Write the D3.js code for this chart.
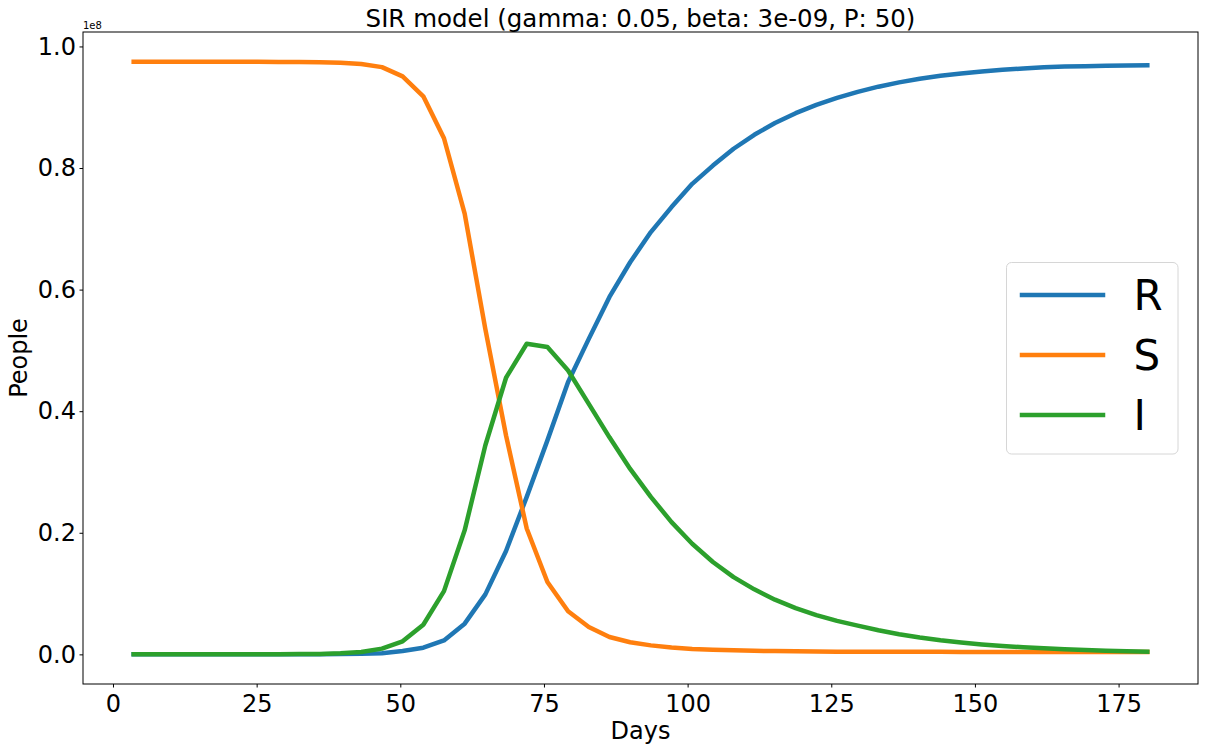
<!DOCTYPE html>
<html>
<head>
<meta charset="utf-8">
<script src="https://cdn.jsdelivr.net/npm/d3@7"></script>
<style>
  body { margin: 0; background: #fff; }
  text { font-family: "DejaVu Sans", sans-serif; }
</style>
</head>
<body>
<div id="chart-area"></div>
<script>
// days of each model step (P: 50 steps over 180 days)
var days = [3.6, 7.2, 10.8, 14.4, 18, 21.6, 25.2, 28.8, 32.4, 36,
	39.6, 43.2, 46.8, 50.4, 54, 57.6, 61.2, 64.8, 68.4, 72,
	75.6, 79.2, 82.8, 86.4, 90, 93.6, 97.2, 100.8, 104.4, 108,
	111.6, 115.2, 118.8, 122.4, 126, 129.6, 133.2, 136.8, 140.4, 144,
	147.6, 151.2, 154.8, 158.4, 162, 165.6, 169.2, 172.8, 176.4, 180];

// people, in units of 1e8
var recovered = [0, 0, 0, 0, 0, 0, 0, 0, 0.0001, 0.0002,
	0.0004, 0.0009, 0.002, 0.0055, 0.011, 0.023, 0.0505, 0.0987, 0.170, 0.259,
	0.352, 0.448, 0.519, 0.588, 0.645, 0.6946, 0.7357, 0.774, 0.804, 0.8317,
	0.8547, 0.874, 0.8902, 0.9038, 0.9153, 0.9253, 0.9338, 0.9409, 0.9468, 0.9517,
	0.9556, 0.9589, 0.9616, 0.9638, 0.9656, 0.9668, 0.9676, 0.9682, 0.9686, 0.9689];

var susceptible = [0.975, 0.975, 0.975, 0.975, 0.9749, 0.9749, 0.9748, 0.9746, 0.9744, 0.9741,
	0.9733, 0.971, 0.966, 0.9507, 0.918, 0.849, 0.725, 0.535, 0.36, 0.207,
	0.119, 0.071, 0.045, 0.0285, 0.020, 0.0148, 0.0112, 0.009, 0.0076, 0.0066,
	0.0059, 0.0054, 0.005, 0.0047, 0.0045, 0.0044, 0.0043, 0.0042, 0.0041, 0.0041,
	0.004, 0.004, 0.0039, 0.0039, 0.0039, 0.0038, 0.0038, 0.0038, 0.0038, 0.0038];

var infected = [0, 0, 0, 0, 0, 0.0001, 0.0001, 0.0002, 0.0004, 0.0008,
	0.0018, 0.004, 0.0094, 0.0214, 0.0488, 0.104, 0.204, 0.344, 0.455, 0.511,
	0.5055, 0.467, 0.412, 0.357, 0.305, 0.259, 0.2176, 0.182, 0.152, 0.127,
	0.107, 0.090, 0.076, 0.0645, 0.055, 0.0472, 0.0397, 0.0332, 0.0277, 0.0232,
	0.0195, 0.0164, 0.0138, 0.0117, 0.0099, 0.0084, 0.0072, 0.0061, 0.0052, 0.0045];

var seriesNames = ["R", "S", "I"];
var seriesColors = ["#1f77b4", "#ff7f0e", "#2ca02c"];
var xTicks = [0, 25, 50, 75, 100, 125, 150, 175];
var yTicks = [0, 0.2, 0.4, 0.6, 0.8, 1.0];

var W = 1205, H = 750;
var margin = {top: 32, right: 7, bottom: 66, left: 83};
var width = W - margin.left - margin.right;
var height = H - margin.top - margin.bottom;

var svg = d3.select("#chart-area")
	.append("svg")
	.attr("width", W)
	.attr("height", H);

var g = svg.append("g")
	.attr("transform", "translate(" + margin.left + ", " + margin.top + ")");

// matplotlib style 5% margins
var xPad = (d3.max(days) - d3.min(days)) * 0.05;
var yMax = d3.max([d3.max(recovered), d3.max(susceptible), d3.max(infected)]);
var yPad = yMax * 0.05;

var x = d3.scaleLinear()
	.domain([d3.min(days) - xPad, d3.max(days) + xPad])
	.range([0, width]);
var y = d3.scaleLinear()
	.domain([0 - yPad, yMax + yPad])
	.range([height, 0]);

var bottomAxis = d3.axisBottom(x).tickValues(xTicks)
	.tickSize(3.5).tickPadding(7).tickSizeOuter(0)
	.tickFormat(d3.format("d"));
var leftAxis = d3.axisLeft(y).tickValues(yTicks)
	.tickSize(3.5).tickPadding(3.5).tickSizeOuter(0)
	.tickFormat(d3.format(".1f"));

var xAxisGroup = g.append("g")
	.attr("transform", "translate(0, " + height + ")")
	.call(bottomAxis);
var yAxisGroup = g.append("g")
	.call(leftAxis);

[xAxisGroup, yAxisGroup].forEach(function(a) {
	a.select(".domain").remove();
	a.selectAll(".tick line").attr("stroke", "#000").attr("stroke-width", 1);
	a.selectAll(".tick text")
		.attr("fill", "#000")
		.style("font-size", "24px")
		.style("font-family", "'DejaVu Sans', sans-serif");
});

var series = [recovered, susceptible, infected];

var line = d3.line()
	.x(function(d, i) { return x(days[i]); })
	.y(function(d) { return y(d); });

g.selectAll(".series")
	.data(series)
	.enter().append("path")
	.attr("class", "series")
	.attr("d", line)
	.attr("fill", "none")
	.attr("stroke", function(d, i) { return seriesColors[i]; })
	.attr("stroke-width", 4.5)
	.attr("stroke-linecap", "square")
	.attr("stroke-linejoin", "round");

// axes frame
g.append("rect")
	.attr("x", 0)
	.attr("y", 0)
	.attr("width", width)
	.attr("height", height)
	.attr("fill", "none")
	.attr("stroke", "#000")
	.attr("stroke-width", 1);

// offset text
g.append("text")
	.attr("x", 0)
	.attr("y", -3)
	.attr("font-size", "10px")
	.style("fill", "black")
	.text("1e8");

// title
g.append("text")
	.attr("x", width / 2)
	.attr("y", -5.5)
	.attr("font-size", "24.5px")
	.attr("text-anchor", "middle")
	.style("fill", "black")
	.text("SIR model (gamma: 0.05, beta: 3e-09, P: 50)");

g.append("text")
	.attr("x", width / 2)
	.attr("y", height + 55)
	.attr("font-size", "24px")
	.attr("text-anchor", "middle")
	.style("fill", "black")
	.text("Days");

g.append("text")
	.attr("x", -(height / 2))
	.attr("y", -56)
	.attr("font-size", "24px")
	.attr("text-anchor", "middle")
	.attr("transform", "rotate(-90)")
	.style("fill", "black")
	.text("People");

// legend
var legend = g.append("g")
	.attr("transform", "translate(" + (width - 191.5) + ", " + 230.5 + ")");

legend.append("rect")
	.attr("width", 171.5)
	.attr("height", 191.5)
	.attr("rx", 5)
	.attr("fill", "#fff")
	.attr("fill-opacity", 0.8)
	.attr("stroke", "#d6d6d6")
	.attr("stroke-width", 1);

var items = legend.selectAll(".item")
	.data(seriesNames)
	.enter().append("g")
	.attr("class", "item")
	.attr("transform", function(d, i) { return "translate(0, " + (32.5 + i * 60) + ")"; });

items.append("line")
	.attr("x1", 15.5)
	.attr("x2", 96.5)
	.attr("stroke", function(d, i) { return seriesColors[i]; })
	.attr("stroke-width", 4.5)
	.attr("stroke-linecap", "square");

items.append("text")
	.attr("x", 127)
	.attr("y", 15)
	.attr("font-size", "42px")
	.style("fill", "black")
	.text(function(d) { return d; });
</script>
</body>
</html>
